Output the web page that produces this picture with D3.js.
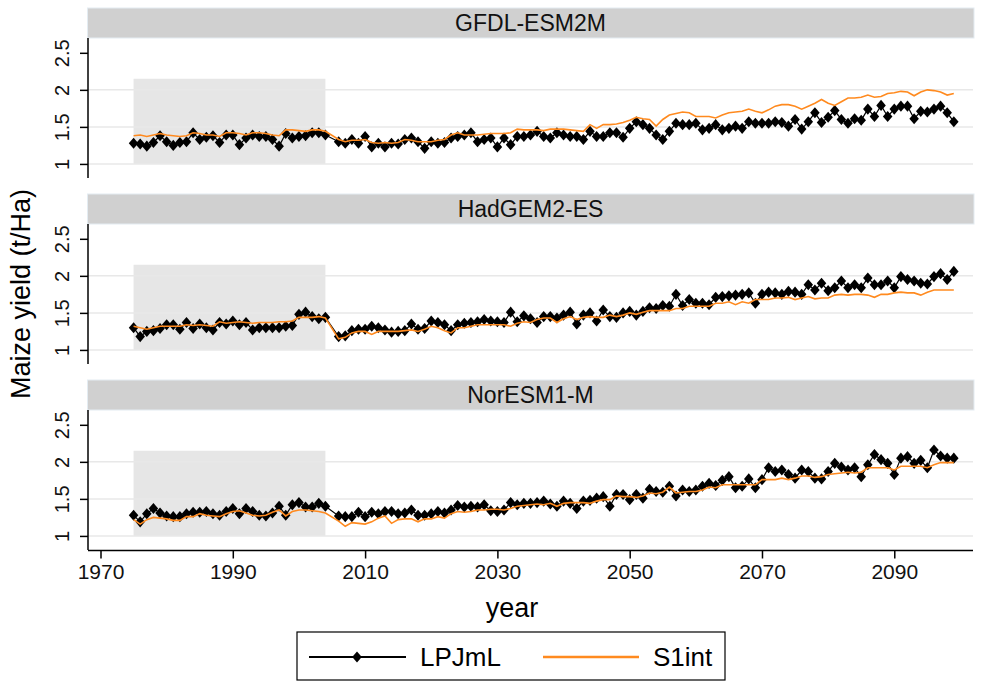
<!DOCTYPE html>
<html>
<head>
<meta charset="utf-8">
<script src="https://cdn.jsdelivr.net/npm/d3@7"></script>
<style>
  html, body { margin: 0; padding: 0; background: #fff; }
  svg { display: block; font-family: "Liberation Sans", Arial, sans-serif; }
</style>
</head>
<body>
<svg id="chart" width="981" height="683"></svg>
<script>
// Simulation years: historical 1975-2004, projections 2006-2099
const years = d3.range(1975, 2005).concat(d3.range(2006, 2100));

const models = ["GFDL-ESM2M", "HadGEM2-ES", "NorESM1-M"];
const seriesNames = ["LPJmL", "S1int"];

const xTicks = [1970, 1990, 2010, 2030, 2050, 2070, 2090];
const yTicks = [1, 1.5, 2, 2.5];
const gridValues = [1, 1.5, 2];

// Baseline period shading
const baselineYears = [1975, 2004];
const baselineYield = [1, 2.15];

// Maize yield (t/Ha)
const gfdlLPJmL = [
  1.28,1.27,1.24,1.29,1.38,1.30,1.25,1.29,1.30,1.42,1.33,1.36,1.38,1.29,1.39,1.39,1.26,1.35,1.39,1.37,
  1.37,1.33,1.24,1.41,1.35,1.37,1.38,1.42,1.42,1.39,
  1.30,
  1.28,1.33,1.28,1.37,1.23,1.28,1.23,1.28,1.27,1.33,1.35,1.30,1.21,1.30,1.28,1.29,1.35,1.37,1.39,1.42,
  1.30,1.33,1.35,1.23,1.35,1.26,1.37,1.37,1.39,1.44,1.37,1.35,1.42,1.39,1.37,1.37,1.33,1.44,1.37,1.37,
  1.42,1.42,
  1.36,1.48,1.57,1.53,1.48,1.39,1.33,1.44,1.55,1.53,1.53,1.55,1.46,1.48,1.53,1.46,1.48,1.51,1.48,1.57,
  1.55,1.55,1.55,1.57,1.56,1.51,1.60,1.47,1.57,1.69,1.56,1.63,1.72,1.60,1.55,1.61,1.59,1.74,1.64,1.79,
  1.64,1.74,1.78,1.78,1.61,1.71,1.70,1.74,1.78,1.69,1.57
];
const gfdlS1int = [
  1.38,1.39,1.37,1.39,1.41,1.39,1.38,1.37,1.38,1.42,1.41,1.39,1.39,1.37,1.42,1.42,1.41,1.39,1.42,1.42,
  1.41,1.39,1.38,1.46,1.46,1.45,1.44,1.46,1.46,1.44,
  1.33,
  1.30,1.32,1.32,1.33,1.29,1.28,1.29,1.28,1.29,1.33,1.32,1.30,1.30,1.30,1.32,1.33,1.39,1.42,1.39,1.39,
  1.39,1.40,1.41,1.41,1.41,1.42,1.47,1.46,1.46,1.46,1.45,1.47,1.47,1.47,1.46,1.45,1.44,1.53,1.48,1.53,
  1.53,1.54,
  1.56,1.59,1.63,1.61,1.60,1.51,1.60,1.66,1.68,1.70,1.69,1.64,1.64,1.64,1.62,1.66,1.69,1.70,1.71,1.74,
  1.71,1.69,1.73,1.78,1.80,1.80,1.78,1.74,1.78,1.82,1.87,1.82,1.79,1.84,1.89,1.89,1.90,1.93,1.90,1.91,
  1.95,1.96,1.98,1.97,1.92,1.97,2.00,1.99,1.97,1.93,1.95
];
const hadLPJmL = [
  1.30,1.18,1.25,1.26,1.29,1.34,1.34,1.28,1.37,1.29,1.35,1.30,1.27,1.37,1.35,1.39,1.34,1.37,1.27,1.30,
  1.30,1.30,1.30,1.32,1.33,1.48,1.51,1.45,1.42,1.44,
  1.18,1.19,1.26,1.28,1.28,1.32,1.30,1.27,1.24,1.25,1.26,1.35,1.28,1.29,1.39,1.37,1.34,1.26,1.34,1.36,
  1.37,1.38,1.41,1.39,1.38,1.37,1.51,1.38,
  1.46,1.42,1.37,1.45,1.45,1.43,1.47,1.51,1.35,1.47,1.50,1.39,1.54,1.45,1.44,1.50,1.52,1.47,1.52,1.57,
  1.56,1.60,1.59,1.75,1.60,1.68,1.63,1.63,1.61,1.71,1.72,1.73,1.74,1.75,1.77,1.63,1.75,1.78,1.77,1.75,
  1.79,1.78,1.75,1.88,1.81,1.90,1.80,1.84,1.93,1.84,1.88,1.84,1.97,1.88,1.88,1.93,1.84,1.99,1.95,1.93,
  1.90,1.89,1.99,2.03,1.95,2.06
];
const hadS1int = [
  1.32,1.30,1.28,1.30,1.32,1.32,1.32,1.32,1.34,1.33,1.34,1.33,1.32,1.38,1.36,1.37,1.38,1.37,1.36,1.37,
  1.37,1.37,1.38,1.38,1.39,1.44,1.44,1.44,1.45,1.43,
  1.15,1.17,1.23,1.25,1.25,1.21,1.25,1.25,1.25,1.25,1.26,1.27,1.25,1.28,1.32,1.30,1.26,1.23,1.30,1.30,
  1.32,1.34,1.34,1.34,1.34,1.34,1.32,1.36,
  1.38,1.37,1.41,1.43,1.43,1.37,1.42,1.45,1.41,1.44,1.45,1.44,1.44,1.47,1.45,1.47,1.50,1.48,1.51,1.53,
  1.53,1.53,1.53,1.56,1.56,1.59,1.59,1.59,1.59,1.63,1.63,1.65,1.61,1.65,1.63,1.68,1.68,1.68,1.70,1.70,
  1.71,1.68,1.70,1.72,1.69,1.70,1.70,1.74,1.75,1.74,1.75,1.75,1.74,1.71,1.75,1.75,1.77,1.78,1.77,1.77,
  1.74,1.78,1.81,1.81,1.81,1.81
];
const norLPJmL = [
  1.28,1.19,1.30,1.37,1.31,1.27,1.26,1.26,1.30,1.32,1.32,1.33,1.30,1.28,1.33,1.37,1.30,1.37,1.33,1.28,
  1.27,1.31,1.40,1.28,1.42,1.45,1.39,1.39,1.44,1.40,
  1.27,
  1.26,1.26,1.32,1.26,1.32,1.30,1.33,1.33,1.30,1.31,1.35,1.28,1.28,1.30,1.33,1.31,1.35,1.41,1.39,1.40,
  1.39,1.42,1.34,1.33,1.35,1.45,1.42,
  1.44,1.44,1.45,1.47,1.43,1.40,1.47,1.44,1.37,1.47,1.48,1.51,1.53,1.40,1.56,1.56,1.49,1.56,1.51,1.63,
  1.60,1.59,1.67,1.54,1.62,1.60,1.62,1.67,1.71,1.68,1.75,1.80,1.65,1.67,1.77,1.65,1.76,1.92,1.87,1.89,
  1.83,1.78,1.89,1.87,1.78,1.77,1.87,1.98,1.93,1.89,1.92,1.80,1.96,2.10,2.03,1.98,1.83,2.05,2.07,1.98,
  2.02,1.92,2.16,2.08,2.05,2.05
];
const norS1int = [
  1.22,1.16,1.22,1.25,1.24,1.23,1.21,1.21,1.26,1.26,1.30,1.28,1.27,1.26,1.30,1.33,1.34,1.31,1.28,1.27,
  1.28,1.32,1.35,1.27,1.33,1.35,1.35,1.34,1.33,1.31,
  1.20,
  1.13,1.18,1.17,1.16,1.19,1.24,1.27,1.17,1.22,1.23,1.23,1.19,1.23,1.23,1.26,1.24,1.30,1.33,1.32,1.33,
  1.35,1.35,1.36,1.36,1.35,1.37,1.40,
  1.41,1.42,1.43,1.42,1.44,1.40,1.44,1.45,1.45,1.45,1.44,1.47,1.49,1.49,1.54,1.53,1.53,1.52,1.54,1.58,
  1.57,1.59,1.66,1.58,1.59,1.60,1.60,1.62,1.66,1.65,1.69,1.69,1.69,1.69,1.69,1.69,1.76,1.76,1.76,1.78,
  1.76,1.78,1.81,1.81,1.79,1.80,1.83,1.84,1.85,1.86,1.85,1.86,1.92,1.92,1.92,1.92,1.89,1.94,1.94,1.94,
  1.94,1.92,1.96,1.99,1.99,1.99
];

const panelSeries = [
  [gfdlLPJmL, gfdlS1int],
  [hadLPJmL, hadS1int],
  [norLPJmL, norS1int]
];

// ---- layout ----
const colors = { LPJmL: "#000000", S1int: "#ff8a1f" };
const svg = d3.select("#chart");
svg.append("rect").attr("width", 981).attr("height", 683).attr("fill", "#ffffff");

const plotLeft = 88, plotRight = 973;
const panelStep = 186;
const stripTop = 8, stripH = 30;
const plotTop = 38, plotBottom = 178;

const x = d3.scaleLinear().domain([1968.11, 2101.9]).range([plotLeft, plotRight]);

// diamond marker, slightly taller than wide
const diamond = {
  draw(ctx, size) {
    const h = Math.sqrt(size) * 0.62, w = h * 0.86;
    ctx.moveTo(0, -h); ctx.lineTo(w, 0); ctx.lineTo(0, h); ctx.lineTo(-w, 0); ctx.closePath();
  }
};
const symbolGen = d3.symbol().type(diamond).size(80);

models.forEach((model, p) => {
  const off = p * panelStep;
  const y = d3.scaleLinear().domain([0.81, 2.7]).range([plotBottom + off, plotTop + off]);
  const g = svg.append("g");

  // strip header
  g.append("rect")
    .attr("x", plotLeft - 0.5).attr("y", stripTop + off)
    .attr("width", plotRight - plotLeft + 1.5).attr("height", stripH)
    .attr("fill", "#d0d0d0").attr("stroke", "#e4ecf2").attr("stroke-width", 1);
  g.append("text")
    .attr("x", (plotLeft + plotRight) / 2).attr("y", stripTop + off + stripH / 2)
    .attr("dy", "0.36em").attr("text-anchor", "middle")
    .attr("font-size", 23).attr("fill", "#111")
    .text(model);

  // baseline shading
  g.append("rect")
    .attr("x", x(baselineYears[0])).attr("width", x(baselineYears[1]) - x(baselineYears[0]))
    .attr("y", y(baselineYield[1])).attr("height", y(baselineYield[0]) - y(baselineYield[1]))
    .attr("fill", "#e6e6e6");

  // grid lines
  g.selectAll(".grid").data(gridValues).join("line")
    .attr("x1", plotLeft).attr("x2", plotRight)
    .attr("y1", d => y(d)).attr("y2", d => y(d))
    .attr("stroke", "#e8e8e8").attr("stroke-width", 1.5);

  // y axis
  const yAxis = d3.axisLeft(y).tickValues(yTicks).tickSize(8).tickPadding(0)
    .tickFormat(d3.format("~g"));
  const ya = g.append("g").attr("transform", `translate(${plotLeft},0)`).call(yAxis);
  ya.select(".domain").attr("d", `M0,${plotTop + off}V${plotBottom + off}`)
    .attr("stroke", "#000").attr("stroke-width", 1.5);
  ya.selectAll(".tick line").attr("stroke", "#000").attr("stroke-width", 1.5);
  ya.selectAll(".tick text")
    .attr("font-size", 20).attr("fill", "#111")
    .attr("transform", "translate(-19,0) rotate(-90)")
    .attr("x", 0).attr("dy", 0).attr("text-anchor", "middle");

  const [lpj, s1] = panelSeries[p];
  const line = vals => d3.line().x((d, i) => x(years[i])).y(d => y(d))(vals);

  // LPJmL: connected diamonds
  g.append("path").attr("d", line(lpj)).attr("fill", "none")
    .attr("stroke", colors.LPJmL).attr("stroke-width", 1.2);
  g.selectAll(".pt").data(lpj).join("path")
    .attr("d", symbolGen)
    .attr("transform", (d, i) => `translate(${x(years[i])},${y(d)})`)
    .attr("fill", colors.LPJmL);

  // S1int line
  g.append("path").attr("d", line(s1)).attr("fill", "none")
    .attr("stroke", colors.S1int).attr("stroke-width", 1.6);

  // x axis on the bottom panel
  if (p === models.length - 1) {
    const xAxis = d3.axisBottom(x).tickValues(xTicks).tickSize(8).tickPadding(6)
      .tickFormat(d3.format("d"));
    const xa = g.append("g").attr("transform", `translate(0,${plotBottom + off + 0.5})`).call(xAxis);
    xa.select(".domain").attr("d", `M${plotLeft},0H${plotRight}`)
      .attr("stroke", "#000").attr("stroke-width", 1.5);
    xa.selectAll(".tick line").attr("stroke", "#000").attr("stroke-width", 1.5);
    xa.selectAll(".tick text").attr("font-size", 21).attr("fill", "#111");
  }
});

// axis titles
svg.append("text")
  .attr("transform", "translate(30,294) rotate(-90)")
  .attr("text-anchor", "middle").attr("font-size", 27).attr("fill", "#000")
  .text("Maize yield (t/Ha)");
svg.append("text")
  .attr("x", 512).attr("y", 617).attr("text-anchor", "middle")
  .attr("font-size", 27).attr("fill", "#000")
  .text("year");

// legend
const lg = svg.append("g");
lg.append("rect").attr("x", 297).attr("y", 632).attr("width", 428).attr("height", 48)
  .attr("fill", "#fff").attr("stroke", "#000").attr("stroke-width", 1.2);
lg.append("line").attr("x1", 309).attr("x2", 406).attr("y1", 657).attr("y2", 657)
  .attr("stroke", colors.LPJmL).attr("stroke-width", 2.2);
lg.append("path").attr("d", symbolGen).attr("transform", "translate(357,657)")
  .attr("fill", colors.LPJmL);
lg.append("text").attr("x", 420).attr("y", 666).attr("font-size", 26).text(seriesNames[0]);
lg.append("line").attr("x1", 543).attr("x2", 639).attr("y1", 657).attr("y2", 657)
  .attr("stroke", colors.S1int).attr("stroke-width", 2.6);
lg.append("text").attr("x", 653).attr("y", 666).attr("font-size", 26).text(seriesNames[1]);
</script>
</body>
</html>
